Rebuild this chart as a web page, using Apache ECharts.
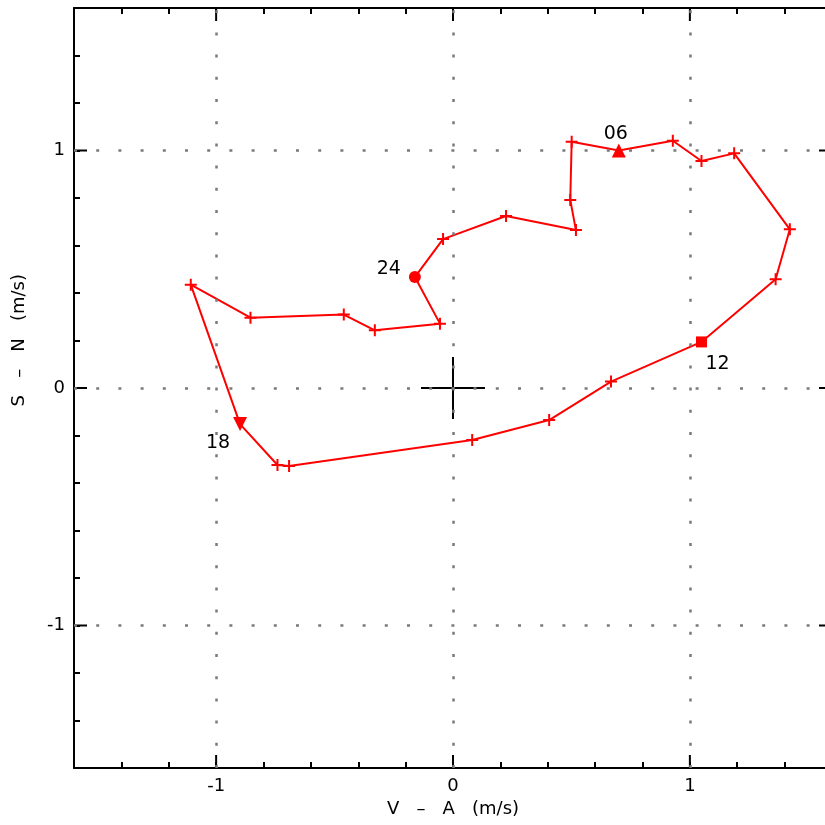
<!DOCTYPE html>
<html>
<head>
<meta charset="utf-8">
<script src="https://cdn.jsdelivr.net/npm/echarts@6/dist/echarts.min.js"></script>
<style>html,body{margin:0;padding:0;background:#fff;}#c{width:825px;height:825px;}</style>
</head>
<body>
<div id="c"></div>
<script>
// hourly wind components (hours 1..24)
const hours = [1,2,3,4,5,6,7,8,9,10,11,12,13,14,15,16,17,18,19,20,21,22,23,24];
const uVals = [-0.042,0.224,0.519,0.495,0.501,0.700,0.928,1.049,1.187,1.422,1.362,1.049,0.667,0.406,0.081,-0.692,-0.741,-0.899,-1.107,-0.855,-0.461,-0.330,-0.055,-0.161];
const vVals = [0.627,0.724,0.665,0.792,1.037,1.000,1.041,0.956,0.988,0.668,0.458,0.194,0.027,-0.135,-0.219,-0.328,-0.324,-0.152,0.435,0.296,0.309,0.243,0.271,0.467];
const specialHours = [6,12,18,24];
const specialLabels = ['06','12','18','24'];
const majorTicks = [-1,0,1];
const axisMin = -1.6, axisMax = 1.6, minorStep = 0.2;
const crossHalfX = 0.135, crossHalfY = 0.131;

const FONT = 'DejaVu Sans';

// closed loop: start from hour 24 (= hour 0), then 1..24
const linePts = [[uVals[23], vVals[23]]].concat(hours.map((h,i)=>[uVals[i], vVals[i]]));
const plusPts = hours.map((h,i)=>specialHours.indexOf(h) < 0 ? [uVals[i], vVals[i]] : null).filter(p=>p);

const specialStyle = {
  6:  {symbol:'triangle', size:14, pos:'top', offset:[-3,6]},
  12: {symbol:'rect', size:11, pos:'bottom', offset:[16,1]},
  18: {symbol:'triangle', size:14, rotate:180, pos:'bottom', offset:[-22,-4]},
  24: {symbol:'circle', size:12, pos:'left', offset:[-2,-8]}
};
const specialData = specialHours.map((h,k)=>{
  const i = hours.indexOf(h);
  const s = specialStyle[h];
  return {
    value:[uVals[i], vVals[i]],
    symbol:s.symbol, symbolSize:s.size, symbolRotate:s.rotate||0,
    label:{show:true, formatter:specialLabels[k], position:s.pos, offset:s.offset, distance:6,
      color:'#000', opacity:1, fontSize:19, fontFamily:FONT}
  };
});

function intLabel(v){
  const r = Math.round(v);
  return Math.abs(v - r) < 1e-6 ? String(r) : '';
}
function mkAxis(pos, showLabel, name){
  return {
    type:'value', position:pos, min:axisMin, max:axisMax, interval:minorStep,
    axisLine:{show:true, onZero:false, lineStyle:{color:'#000', width:2}},
    axisTick:{show:true, inside:true, length:6, lineStyle:{color:'#000', width:2}},
    axisLabel:{show:showLabel, formatter:intLabel, color:'#000', fontSize:18, fontFamily:FONT, margin:9},
    splitLine:{show:false},
    name:name||'', nameLocation:'middle', nameGap:28,
    nameTextStyle:{color:'#000', fontSize:18, fontFamily:FONT}
  };
}

const chart = echarts.init(document.getElementById('c'), null, {renderer:'canvas'});
chart.setOption({
  animation:false,
  backgroundColor:'#fff',
  grid:{left:74, top:8, width:758, height:760, containLabel:false, outerBoundsMode:'none'},
  xAxis:[mkAxis('bottom', true, 'V   \u2013   A   (m/s)'), mkAxis('top', false)],
  yAxis:[mkAxis('left', true), mkAxis('right', false)],
  graphic:[{
    type:'text', left:10, top:274, rotation:Math.PI/2,
    style:{text:'S   \u2013   N   (m/s)', fill:'#000', font:'18px "DejaVu Sans"'}
  }],
  series:[
    {
      type:'custom', coordinateSystem:'cartesian2d', silent:true, z:1,
      data:majorTicks.map(t=>[t]),
      renderItem:function(params, api){
        const t = api.value(0);
        const L = 13;
        const b = api.coord([t, axisMin]), tp = api.coord([t, axisMax]);
        const l = api.coord([axisMin, t]), r = api.coord([axisMax, t]);
        const st = {stroke:'#000', lineWidth:2};
        return {type:'group', children:[
          {type:'line', shape:{x1:b[0], y1:b[1], x2:b[0], y2:b[1]-L}, style:st},
          {type:'line', shape:{x1:tp[0], y1:tp[1], x2:tp[0], y2:tp[1]+L}, style:st},
          {type:'line', shape:{x1:l[0], y1:l[1], x2:l[0]+L, y2:l[1]}, style:st},
          {type:'line', shape:{x1:r[0], y1:r[1], x2:r[0]-L, y2:r[1]}, style:st}
        ]};
      }
    },
    {
      type:'line', data:[[-crossHalfX,0],[crossHalfX,0]], showSymbol:false, silent:true, z:2,
      lineStyle:{color:'#000', width:2},
      markLine:{
        silent:true, symbol:['none','none'], label:{show:false},
        lineStyle:{color:'#7a7a7a', width:2.5, type:[3,19.2], opacity:1},
        data:majorTicks.map(t=>({xAxis:t})).concat(majorTicks.map(t=>({yAxis:t})))
      }
    },
    {
      type:'line', data:[[0,-crossHalfY],[0,crossHalfY]], showSymbol:false, silent:true, z:2,
      lineStyle:{color:'#000', width:2}
    },
    {
      type:'line', data:linePts, showSymbol:false, z:3,
      lineStyle:{color:'#ff0000', width:2}
    },
    {
      type:'scatter', data:plusPts, z:4,
      symbol:'path://M5,0L5,10M0,5L10,5', symbolSize:12,
      itemStyle:{color:'none', borderColor:'#ff0000', borderWidth:2, opacity:1}
    },
    {
      type:'scatter', data:specialData, z:5,
      itemStyle:{color:'#ff0000', opacity:1}
    }
  ]
});
</script>
</body>
</html>
